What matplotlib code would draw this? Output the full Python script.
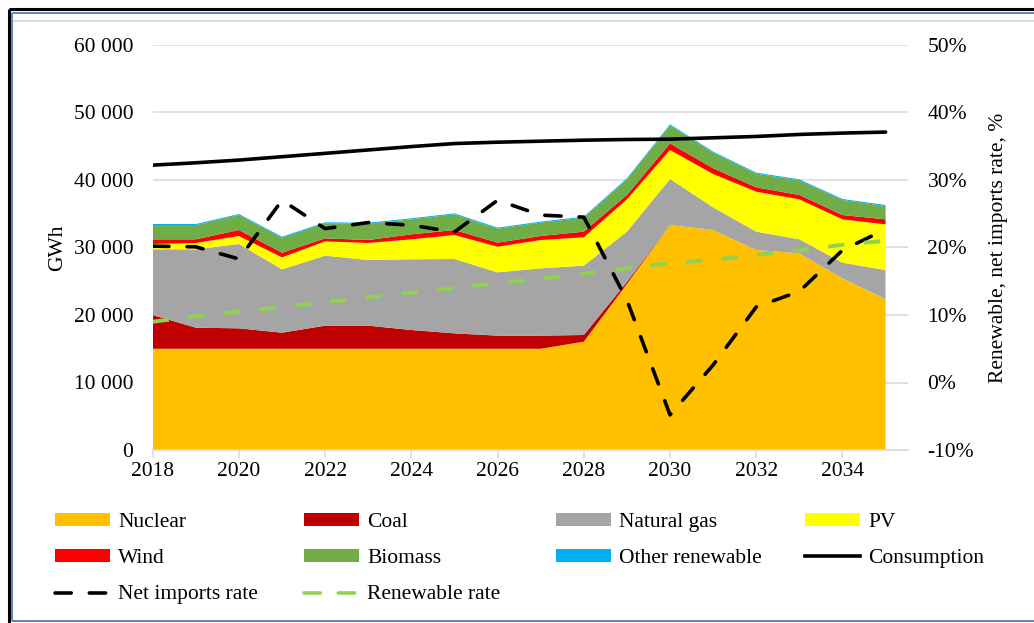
import matplotlib
matplotlib.use("Agg")
import matplotlib.pyplot as plt
from matplotlib.patches import Patch
from matplotlib.lines import Line2D
from matplotlib.ticker import FuncFormatter, FixedLocator

plt.rcParams['font.family'] = ['Liberation Serif', 'DejaVu Serif']

years = list(range(2018, 2036))
nuclear = [15000, 15000, 15000, 15000, 15000, 15000, 15000, 15000, 15000, 15000, 16050,
           24600, 33330, 32590, 29630, 29130, 25430, 22370]
coal = [5000, 3120, 3025, 2380, 3420, 3420, 2780, 2280, 1940, 1940, 990,
        300, 0, 0, 0, 0, 0, 0]
natural_gas = [9730, 11610, 12495, 9390, 10370, 9730, 10470, 11020, 9380, 9970, 10270,
               7450, 6820, 3360, 2720, 2080, 2320, 4300]
pv = [790, 940, 1180, 1770, 2120, 2520, 2960, 3550, 3800, 4200, 4200,
      4790, 4290, 4940, 5920, 5930, 6420, 6760]
wind = [690, 540, 890, 690, 450, 440, 740, 740, 600, 590, 840,
        640, 990, 840, 640, 640, 640, 740]
biomass = [2120, 2120, 2220, 2220, 2220, 2420, 2220, 2320, 2070, 1980, 2070,
           2320, 2670, 2320, 2030, 2170, 2230, 1980]
other_renewable = [150] * 18
consumption = [42200, 42550, 42950, 43450, 43950, 44450, 44950, 45400, 45600, 45750, 45900,
               46000, 46050, 46250, 46450, 46750, 46950, 47100]
net_imports_rate = [20.2, 20.1, 18.3, 27.0, 22.8, 23.7, 23.3, 22.3, 27.0, 24.8, 24.5,
                    12.2, -4.8, 2.6, 11.2, 13.5, 19.6, 22.7]
renewable_rate = [9.0, 9.8, 10.5, 11.2, 11.9, 12.6, 13.3, 14.0, 14.7, 15.4, 16.1,
                  16.9, 17.7, 18.2, 18.9, 19.6, 20.4, 21.0]

left_ticks = [0, 10000, 20000, 30000, 40000, 50000, 60000]
right_ticks = [-10, 0, 10, 20, 30, 40, 50]
x_ticks = list(range(2018, 2036, 2))

names = ['Nuclear', 'Coal', 'Natural gas', 'PV', 'Wind', 'Biomass', 'Other renewable']
colors = ['#FFC000', '#C00000', '#A5A5A5', '#FFFF00', '#FF0000', '#70AD47', '#00B0F0']

W, H = 1034, 623
fs = 15.5
fig = plt.figure(figsize=(W / 100, H / 100), dpi=100)
ax = fig.add_axes([152.7 / W, 1 - 450 / H, (908 - 152.7) / W, 405 / H])

ax.stackplot(years, nuclear, coal, natural_gas, pv, wind, biomass, other_renewable,
             colors=colors, linewidth=0, zorder=2)
ax.plot(years, consumption, color='black', lw=2.6, solid_capstyle='round', zorder=4)

ax.set_xlim(2018, 2035.52)
ax.set_ylim(0, 60000)
ax.yaxis.set_major_locator(FixedLocator(left_ticks))
ax.yaxis.set_major_formatter(FuncFormatter(lambda v, p: f"{int(v):,}".replace(",", " ")))
ax.set_xticks(x_ticks)
ax.grid(axis='y', color='#D9D9D9', lw=1.1, zorder=0)
ax.set_axisbelow(True)
for s in ['left', 'right', 'top']:
    ax.spines[s].set_visible(False)
ax.spines['bottom'].set_color('#D9D9D9')
ax.spines['bottom'].set_linewidth(1.1)
ax.tick_params(axis='x', colors='#D9D9D9', length=5.5, width=1.1, labelcolor='black',
               labelsize=fs, pad=3)
ax.tick_params(axis='y', length=0, labelsize=fs, pad=14)
ax.set_ylabel('GWh', fontsize=fs, labelpad=5)

ax2 = ax.twinx()
ax2.set_ylim(-10, 50)
ax2.yaxis.set_major_locator(FixedLocator(right_ticks))
ax2.yaxis.set_major_formatter(FuncFormatter(lambda v, p: f"{int(v)}%"))
for s in ['left', 'right', 'top', 'bottom']:
    ax2.spines[s].set_visible(False)
ax2.tick_params(axis='y', length=0, labelsize=fs, pad=14)
ax2.plot(years, net_imports_rate, color='black', lw=2.6, linestyle=(0, (4.5, 5)),
         dash_capstyle='round', zorder=5)
ax2.plot(years, renewable_rate, color='#92D050', lw=2.8, linestyle=(0, (4.2, 5)),
         dash_capstyle='butt', zorder=5)
ax2.set_ylabel('Renewable, net imports rate, %', fontsize=fs, labelpad=11)

# Legend columns
patch_h = [Patch(facecolor=c, edgecolor='none') for c in colors]
line_cons = Line2D([], [], color='black', lw=2.6)
line_net = Line2D([], [], color='black', lw=2.6, linestyle=(0, (4.5, 5)), dash_capstyle='round')
line_ren = Line2D([], [], color='#92D050', lw=2.6, linestyle=(0, (4.5, 5)), dash_capstyle='round')

cols = [
    (55, [patch_h[0], patch_h[4], line_net], ['Nuclear', 'Wind', 'Net imports rate']),
    (304, [patch_h[1], patch_h[5], line_ren], ['Coal', 'Biomass', 'Renewable rate']),
    (556, [patch_h[2], patch_h[6]], ['Natural gas', 'Other renewable']),
    (805, [patch_h[3], line_cons], ['PV', 'Consumption']),
]
for x0, hs, ls in cols:
    fig.legend(hs, ls, loc='upper left', bbox_to_anchor=(x0 / W, 1 - 513 / H),
               frameon=False, fontsize=fs, borderpad=0, borderaxespad=0,
               handlelength=2.56, handleheight=0.51, handletextpad=0.38,
               labelspacing=0.8)

# Border lines
def fline(x0, y0, x1, y1, color, lw):
    fig.add_artist(Line2D([x0 / W, x1 / W], [1 - y0 / H, 1 - y1 / H], color=color, lw=lw,
                          transform=fig.transFigure, solid_capstyle='butt'))

fline(8.5, 9, W, 9, 'black', 2.2)
fline(8.5, 9, 8.5, H, 'black', 2.2)
fline(12, 12.5, W, 12.5, '#4472C4', 1.2)
fline(12, 12.5, 12, 621, '#4472C4', 1.2)
fline(12, 621, W, 621, '#4472C4', 1.2)
fline(13, 20.5, W, 20.5, '#D9D9D9', 1.3)

fig.savefig('out.png', dpi=100)
